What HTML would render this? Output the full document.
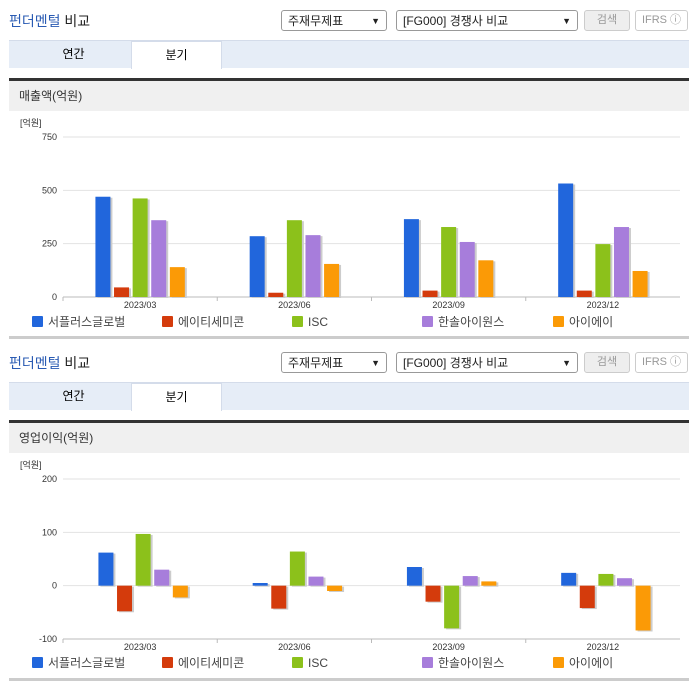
<!DOCTYPE html>
<html><head><meta charset="utf-8">
<style>
body{margin:0;width:696px;height:684px;background:#fff;font-family:"Liberation Sans","Noto Sans CJK KR",sans-serif;position:relative;overflow:hidden}
.abs{position:absolute}
.title{font-size:14px;color:#222}
.title b{color:#2a5bb3;font-weight:normal}
.sel{border:1px solid #999;border-radius:3px;height:21px;font-size:12px;line-height:21px;padding-left:6px;box-sizing:border-box;color:#222;background:#fff}
.sel span{position:absolute;right:6px;top:0;font-size:9px}
.btn{border:1px solid #ccc;border-radius:3px;height:21px;font-size:11px;line-height:19px;text-align:center;color:#999;box-sizing:border-box}
.tabs{left:9px;width:680px;height:28px;background:#e6edf7;border-top:1px solid #d4dcea;box-sizing:border-box}
.tab{position:absolute;top:0;height:28px;line-height:26px;font-size:12px;text-align:center;width:91px}
.dark{left:9px;width:680px;height:3px;background:#333}
.hdr{left:9px;width:680px;height:30px;background:#f0f0f0;font-size:12px;line-height:30px;padding-left:10px;box-sizing:border-box;color:#333}
.gline{left:9px;width:680px;height:3px;background:#ccc}
</style></head><body>
<div id="blocks"></div>
<svg id="c1" class="abs" style="left:0;top:111px" width="696" height="226"></svg>
<svg id="c2" class="abs" style="left:0;top:453px" width="696" height="228"></svg>
<script>
const categories=["2023/03","2023/06","2023/09","2023/12"];
const seriesNames=["서플러스글로벌","에이티세미콘","ISC","한솔아이원스","아이에이"];
const colors=["#2166dc","#d43b0c","#8cc11b","#a77ddb","#fb9a06"];
const rev1=[470,285,365,532];
const rev2=[45,20,30,30];
const rev3=[462,360,328,248];
const rev4=[360,290,258,328];
const rev5=[140,155,172,122];
const op1=[62,5,35,24];
const op2=[-48,-43,-30,-42];
const op3=[97,64,-80,22];
const op4=[30,17,18,14];
const op5=[-22,-10,8,-84];
const revTicks=[0,250,500,750];
const opTicks=[-100,0,100,200];

// blocks
const B=document.getElementById('blocks');
function block(y0,hdr,name){
  B.insertAdjacentHTML('beforeend',`
  <div class="abs title" style="left:9px;top:${y0+11}px"><b>펀더멘털</b> 비교</div>
  <div class="abs sel" style="left:281px;top:${y0+10}px;width:106px">주재무제표<span>▼</span></div>
  <div class="abs sel" style="left:396px;top:${y0+10}px;width:182px">[FG000] 경쟁사 비교<span>▼</span></div>
  <div class="abs btn" style="left:584px;top:${y0+10}px;width:46px;background:#eee">검색</div>
  <div class="abs btn" style="left:635px;top:${y0+10}px;width:53px">IFRS ⓘ</div>
  <div class="abs tabs" style="top:${y0+40}px">
    <div class="tab" style="left:19px">연간</div>
    <div class="tab" style="left:122px;background:#fff;border:1px solid #d4dcea;border-bottom:none;box-sizing:border-box">분기</div>
  </div>
  <div class="abs dark" style="top:${y0+78}px"></div>
  <div class="abs hdr" style="top:${y0+81}px">${hdr}</div>
  <div class="abs gline" style="top:${y0+336}px"></div>`);
}
block(0,"매출액(억원)","revenue");
block(342,"영업이익(억원)","operating-profit");

const NS="http://www.w3.org/2000/svg";
function mk(svg,tag,attrs,txt){const e=document.createElementNS(NS,tag);for(const k in attrs)e.setAttribute(k,attrs[k]);if(txt!==undefined)e.textContent=txt;svg.appendChild(e);return e;}
function draw(id,series,ticks,yTop,yBot,vmin,vmax,legendY,shift){
  const svg=document.getElementById(id);
  const x0=63,x1=680,gw=(x1-x0)/categories.length;
  const y=v=>yBot-(v-vmin)/(vmax-vmin)*(yBot-yTop);
  const u=mk(svg,'text',{x:20,y:yTop-11,'font-size':9,fill:'#333'},'[억원]');
  
  ticks.forEach(t=>{
    const l=mk(svg,'line',{x1:x0,x2:x1,y1:y(t),y2:y(t),stroke:t===vmin?'#bbb':'#e2e2e2'});
    
    const tx=mk(svg,'text',{x:57,y:y(t)+3,'font-size':9,fill:'#333','text-anchor':'end'},t);
    
  });
  mk(svg,'line',{x1:x0,x2:x1,y1:yBot,y2:yBot,stroke:'#bbb'});
  categories.forEach((c,i)=>{
    const cx=x0+gw*(i+0.5);
    mk(svg,'line',{x1:x0+gw*i,x2:x0+gw*i,y1:yBot,y2:yBot+4,stroke:'#bbb'});
    const tx=mk(svg,'text',{x:cx,y:yBot+11,'font-size':9,fill:'#333','text-anchor':'middle'},c);
    
    series.forEach((s,j)=>{
      const bx=cx+shift+(j-2)*18.6-7.5;
      const v=s[i];const ya=y(Math.max(v,0)),yb=y(Math.min(v,0));
      mk(svg,'rect',{x:bx+2,y:ya+1,width:15,height:Math.max(yb-ya,1),fill:'#ccc'});
      const r=mk(svg,'rect',{x:bx,y:ya,width:15,height:Math.max(yb-ya,1),fill:colors[j]});
      
      
    });
  });
  const lx=[32,162,292,422,553];
  seriesNames.forEach((n,j)=>{
    const r=mk(svg,'rect',{x:lx[j],y:legendY-5,width:11,height:11,fill:colors[j],rx:1});
    
    const t=mk(svg,'text',{x:lx[j]+16,y:legendY+5,'font-size':12,fill:'#444'},n);
    
  });
}
draw('c1',[rev1,rev2,rev3,rev4,rev5],revTicks,26,186,0,750,210,0);
draw('c2',[op1,op2,op3,op4,op5],opTicks,26,186,-100,200,209,3);
</script>
</body></html>
